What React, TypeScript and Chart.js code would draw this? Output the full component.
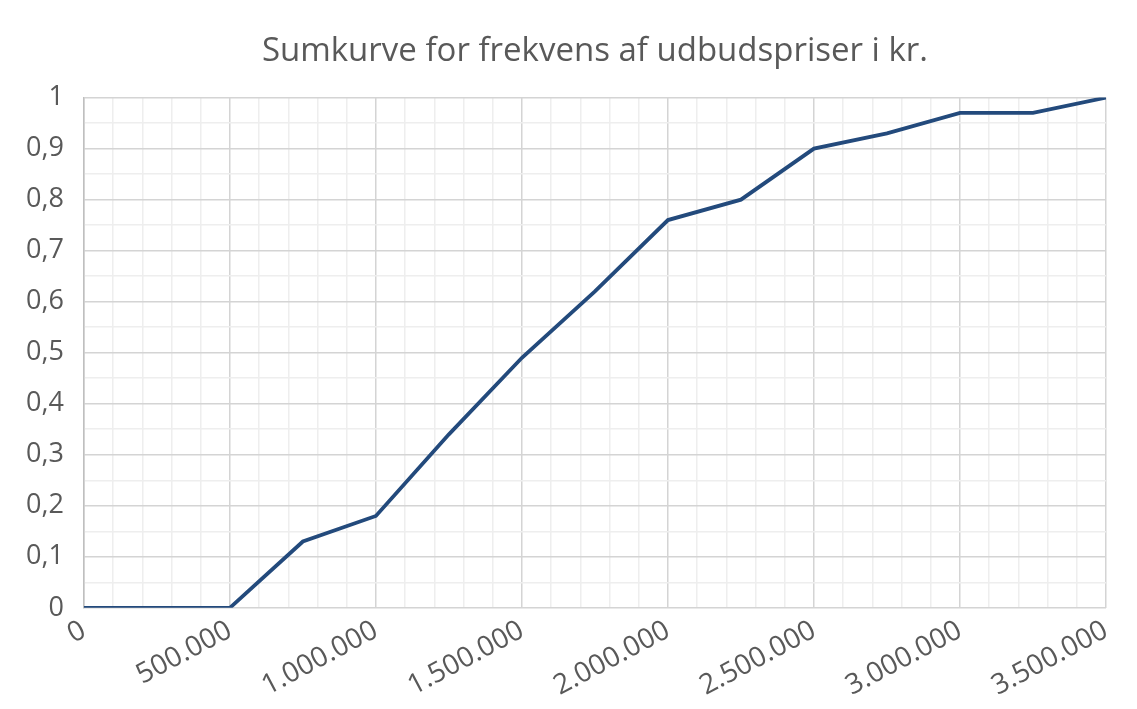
import React, { useEffect, useRef } from "react";
import { Chart, registerables } from "chart.js";

Chart.register(...registerables);

const titleText = "Sumkurve for frekvens af udbudspriser i kr.";
const prices = [0, 250000, 500000, 750000, 1000000, 1250000, 1500000, 1750000, 2000000, 2250000, 2500000, 2750000, 3000000, 3250000, 3500000];
const cumulative = [0, 0, 0, 0.13, 0.18, 0.34, 0.49, 0.62, 0.76, 0.8, 0.9, 0.93, 0.97, 0.97, 1.0];
const xTickLabels = ["0", "500.000", "1.000.000", "1.500.000", "2.000.000", "2.500.000", "3.000.000", "3.500.000"];
const yTickLabels = ["0", "0,1", "0,2", "0,3", "0,4", "0,5", "0,6", "0,7", "0,8", "0,9", "1"];

export default function App() {
  const ref = useRef<HTMLCanvasElement | null>(null);
  useEffect(() => {
    if (!ref.current) return;
    const font = "'Open Sans', sans-serif";
    const chart = new Chart(ref.current, {
      type: "line",
      data: {
        datasets: [
          {
            data: prices.map((p, i) => ({ x: p, y: cumulative[i] })),
            borderColor: "#234a7c",
            borderWidth: 3.8,
            pointRadius: 0,
            tension: 0,
            fill: false,
          },
        ],
      },
      options: {
        animation: false,
        responsive: false,
        maintainAspectRatio: false,
        layout: { padding: { left: 6, right: 31, top: 18, bottom: 0 } },
        plugins: {
          legend: { display: false },
          tooltip: { enabled: false },
          title: {
            display: true,
            fullSize: false,
            text: titleText,
            color: "#595959",
            font: { family: font, size: 33, weight: "normal" },
            padding: { top: 14, bottom: 26 },
          },
        },
        scales: {
          x: {
            type: "linear",
            min: 0,
            max: 3500000,
            border: { display: false },
            grid: {
              drawTicks: false,
              lineWidth: 1.5,
              color: (ctx: any) => {
                const v = ctx.tick ? ctx.tick.value : 0;
                return Math.round(v) % 500000 === 0 ? "#d4d4d4" : "#eeeeee";
              },
            },
            ticks: {
              stepSize: 100000,
              autoSkip: false,
              minRotation: 28,
              maxRotation: 28,
              padding: 6,
              color: "#595959",
              font: { family: font, size: 28 },
              callback: (v: any) => {
                const n = Number(v);
                if (Math.round(n) % 500000 !== 0) return "";
                return xTickLabels[Math.round(n / 500000)];
              },
            },
          },
          y: {
            type: "linear",
            min: 0,
            max: 1,
            border: { display: true, color: "#bfbfbf", width: 1.5 },
            grid: {
              drawTicks: false,
              lineWidth: 1.5,
              color: (ctx: any) => {
                const v = ctx.tick ? ctx.tick.value : 0;
                return Math.abs(v * 10 - Math.round(v * 10)) < 1e-6 ? "#d4d4d4" : "#eeeeee";
              },
            },
            ticks: {
              stepSize: 0.05,
              autoSkip: false,
              padding: 20,
              color: "#595959",
              font: { family: font, size: 27 },
              callback: (v: any) => {
                const n = Number(v);
                if (Math.abs(n * 10 - Math.round(n * 10)) > 1e-6) return "";
                return yTickLabels[Math.round(n * 10)];
              },
            },
          },
        },
      },
    });
    return () => chart.destroy();
  }, []);
  return (
    <div style={{ position: "absolute", left: 0, top: 0, width: 1137, height: 709, background: "#fff" }}>
      <canvas ref={ref} width={1137} height={709} />
    </div>
  );
}
